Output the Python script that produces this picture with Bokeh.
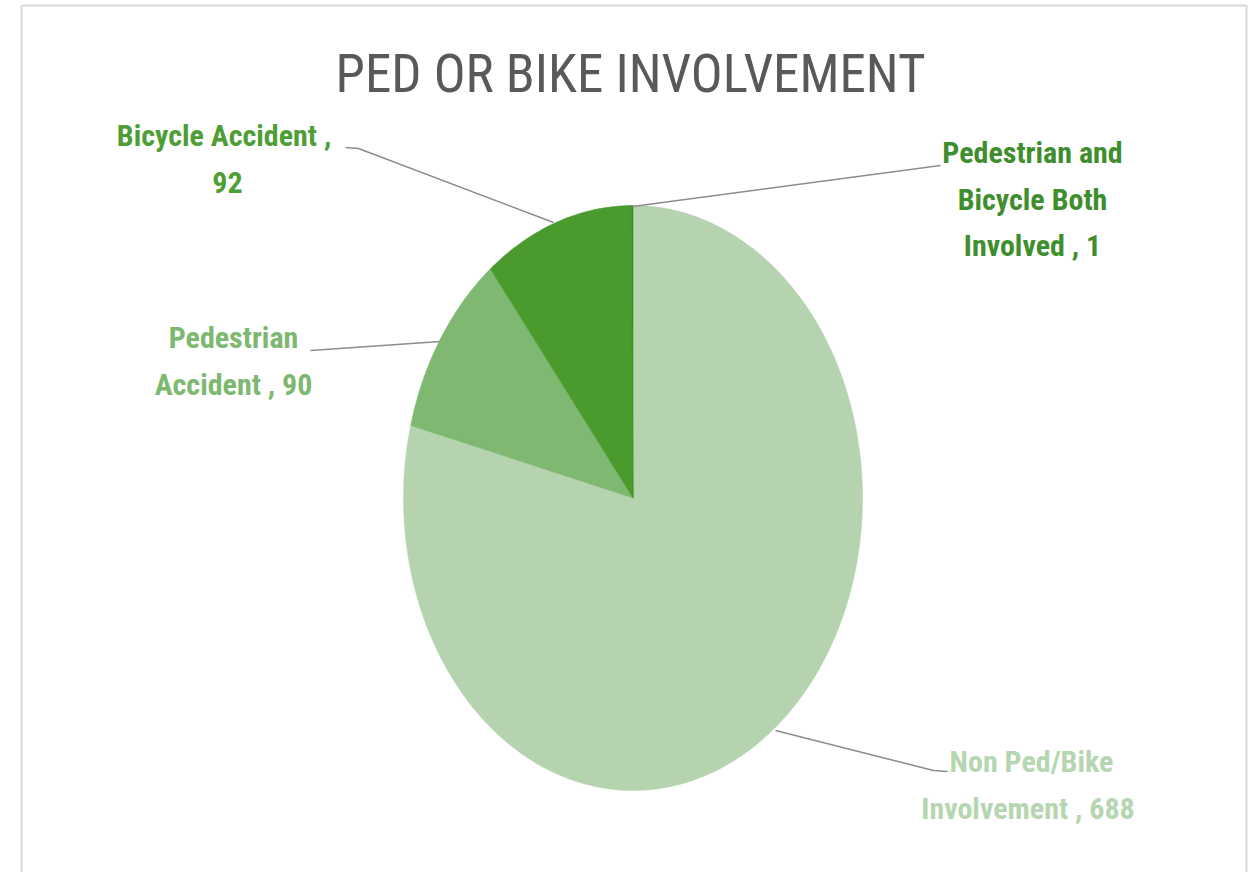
import numpy as np
from bokeh.plotting import figure
from bokeh.models import Range1d
from bokeh.core.properties import value
from bokeh.embed import file_html
from bokeh.resources import INLINE

# ---- data ----
categories = ["Non Ped/Bike Involvement", "Pedestrian Accident",
              "Bicycle Accident", "Pedestrian and Bicycle Both Involved"]
values = [688, 90, 92, 1]
slice_colors = ["#b4d3ae", "#7fb870", "#4a9a2e", "#3b8a27"]
label_colors = ["#b5d6b0", "#7db870", "#4d9e35", "#3f8e2e"]
# label lines (category name split over lines, value appended)
label_heads = [["Non Ped/Bike", "Involvement  , "], ["Pedestrian", "Accident , "],
               ["Bicycle Accident  ,", ""], ["Pedestrian and", "Bicycle Both", "Involved , "]]
title_text = "PED OR BIKE INVOLVEMENT"

FONT = "Roboto Condensed, DejaVu Sans Condensed, Liberation Sans Narrow, Roboto"

W, H = 1248, 872
p = figure(width=W, height=H, output_backend="svg", toolbar_location=None,
           x_range=Range1d(0, W), y_range=Range1d(H, 0),
           min_border=0, outline_line_color=None)
p.axis.visible = False
p.grid.visible = False
p.background_fill_color = "white"
p.border_fill_color = "white"

# frame border (left, top, right)
p.multi_line(xs=[[21, 21], [21, 1246], [1246, 1246]], ys=[[5, 872], [5, 5], [5, 872]],
             line_color="#d9d9d9", line_width=2)

# ---- elliptical pie ----
cx, cy, rx, ry = 632.5, 497.5, 229.5, 292.5
total = float(sum(values))
cum = np.concatenate([[0], np.cumsum(values)]) / total
xs, ys = [], []
for i in range(len(values)):
    a0, a1 = cum[i] * 2 * np.pi, cum[i + 1] * 2 * np.pi
    n = max(3, int(400 * (a1 - a0) / (2 * np.pi)) + 2)
    t = np.linspace(a0, a1, n)
    xs.append(list(np.concatenate([[cx], cx + rx * np.sin(t), [cx]])))
    ys.append(list(np.concatenate([[cy], cy - ry * np.cos(t), [cy]])))
p.patches(xs=xs, ys=ys, fill_color=slice_colors, line_color=slice_colors, line_width=0.5)

# ---- leader lines ----
leaders_x = [[775, 933, 947], [440, 310], [553, 358, 345], [632, 940]]
leaders_y = [[730, 770, 771], [341, 350], [222, 148, 147], [206, 165]]
p.multi_line(xs=leaders_x, ys=leaders_y, line_color="#8c8c8c", line_width=1.5)

# ---- labels ----
label_pos = [(1031, 761), (233, 337), (227, 135), (1032, 152)]
line_gap = 46.5
for i, (heads, v) in enumerate(zip(label_heads, values)):
    lines = list(heads)
    if lines[-1] == "":
        lines[-1] = str(v)
    else:
        lines[-1] = lines[-1] + str(v)
    x0, y0 = label_pos[i]
    p.text(x=[x0] * len(lines), y=[y0 + k * line_gap for k in range(len(lines))],
           text=lines, text_color=label_colors[i], text_font=value(FONT),
           text_font_size="30px", text_font_style="bold",
           text_align="center", text_baseline="alphabetic")

# ---- title ----
p.text(x=[630], y=[73], text=[title_text], text_color="#595959",
       text_font=value(FONT), text_font_size="53px",
       text_align="center", text_baseline="alphabetic")

open("out.html", "w").write(file_html(p, INLINE))
